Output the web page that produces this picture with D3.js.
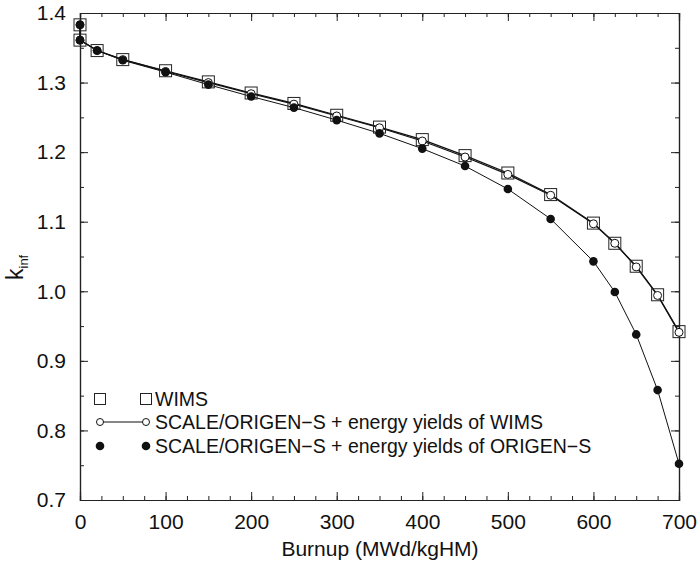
<!DOCTYPE html>
<html><head><meta charset="utf-8">
<script src="https://cdn.jsdelivr.net/npm/d3@7"></script>
<style>
body{margin:0;background:#fff;}
svg{display:block;}
text{font-family:"Liberation Sans Narrow","Arial Narrow","Liberation Sans",Arial,sans-serif;fill:#111;}
</style></head>
<body><svg id="c" width="700" height="561"></svg>
<script>
const burnup = [0, 0, 20, 50, 100, 150, 200, 250, 300, 350, 400, 450, 500, 550, 600, 625, 650, 675, 700];
const wims = [1.383, 1.361, 1.346, 1.333, 1.317, 1.301, 1.285, 1.270, 1.253, 1.236, 1.218, 1.195, 1.170, 1.139, 1.098, 1.069, 1.036, 0.995, 0.942];
const scaleWims = [1.383, 1.361, 1.346, 1.333, 1.316, 1.300, 1.284, 1.269, 1.252, 1.235, 1.216, 1.193, 1.168, 1.138, 1.097, 1.069, 1.035, 0.994, 0.941];
const scaleOrigen = [1.383, 1.361, 1.346, 1.332, 1.315, 1.297, 1.280, 1.264, 1.246, 1.227, 1.205, 1.180, 1.147, 1.104, 1.043, 0.999, 0.938, 0.858, 0.752];
const xTicks = [0, 100, 200, 300, 400, 500, 600, 700];
const yTicks = [0.7, 0.8, 0.9, 1.0, 1.1, 1.2, 1.3, 1.4];
const legendLabels = ["WIMS", "SCALE/ORIGEN\u2212S + energy yields of WIMS", "SCALE/ORIGEN\u2212S + energy yields of ORIGEN\u2212S"];
const xTitle = "Burnup (MWd/kgHM)";

const svg = d3.select("#c");
const L = 80, R = 679, T = 13, B = 500;
const x = d3.scaleLinear().domain([0, 700]).range([L, R]);
const y = d3.scaleLinear().domain([0.7, 1.4]).range([B, T]);

const xMinor = d3.range(0, 701, 25);
const yMinor = d3.range(0.7, 1.4001, 0.05).map(v => +v.toFixed(2));

function styleAxis(g) {
  g.selectAll("path").attr("stroke", "#222").attr("stroke-width", 1.2);
  g.selectAll("line").attr("stroke", "#222").attr("stroke-width", 1);
  g.selectAll("text").attr("font-size", 21).style("font-family", "'Liberation Sans Narrow','Arial Narrow','Liberation Sans',Arial,sans-serif").attr("fill", "#111");
}
// minor ticks
svg.append("g").attr("transform", `translate(0,${B})`).call(d3.axisBottom(x).tickValues(xMinor).tickSize(-4).tickFormat("")).call(styleAxis);
svg.append("g").attr("transform", `translate(0,${T})`).call(d3.axisTop(x).tickValues(xMinor).tickSize(-4).tickFormat("")).call(styleAxis);
svg.append("g").attr("transform", `translate(${L},0)`).call(d3.axisLeft(y).tickValues(yMinor).tickSize(-4).tickFormat("")).call(styleAxis);
svg.append("g").attr("transform", `translate(${R},0)`).call(d3.axisRight(y).tickValues(yMinor).tickSize(-4).tickFormat("")).call(styleAxis);
// major ticks
svg.append("g").attr("transform", `translate(0,${B})`).call(d3.axisBottom(x).tickValues(xTicks).tickSize(-8).tickPadding(14).tickFormat(d3.format("d"))).call(styleAxis);
svg.append("g").attr("transform", `translate(0,${T})`).call(d3.axisTop(x).tickValues(xTicks).tickSize(-8).tickFormat("")).call(styleAxis);
svg.append("g").attr("transform", `translate(${L},0)`).call(d3.axisLeft(y).tickValues(yTicks).tickSize(-8).tickPadding(14).tickFormat(d3.format(".1f"))).call(styleAxis);
svg.append("g").attr("transform", `translate(${R},0)`).call(d3.axisRight(y).tickValues(yTicks).tickSize(-8).tickFormat("")).call(styleAxis);

// axis titles
svg.append("text").attr("x", 380).attr("y", 556).attr("text-anchor", "middle").attr("font-size", 21).text(xTitle);
const yl = svg.append("text").attr("transform", "translate(23,280) rotate(-90)").attr("font-size", 23);
yl.append("tspan").text("k");
yl.append("tspan").attr("font-size", 13).attr("dy", 5).text("inf");

const line = d3.line().x(d => x(d[0])).y(d => y(d[1]));
const dW = burnup.map((b, i) => [b, wims[i]]);
const dSW = burnup.map((b, i) => [b, scaleWims[i]]);
const dSO = burnup.map((b, i) => [b, scaleOrigen[i]]);

svg.append("path").datum(dSO).attr("d", line).attr("fill", "none").attr("stroke", "#111").attr("stroke-width", 1);
svg.append("path").datum(dW).attr("d", line).attr("fill", "none").attr("stroke", "#111").attr("stroke-width", 1.2);
svg.append("path").datum(dSW).attr("d", line).attr("fill", "none").attr("stroke", "#111").attr("stroke-width", 1.2);

const S = 12;
svg.append("g").selectAll("rect").data(dW).join("rect")
  .attr("x", d => x(d[0]) - S / 2).attr("y", d => y(d[1]) - S / 2).attr("width", S).attr("height", S)
  .attr("fill", "none").attr("stroke", "#222").attr("stroke-width", 1);
svg.append("g").selectAll("circle").data(dSW).join("circle")
  .attr("cx", d => x(d[0])).attr("cy", d => y(d[1])).attr("r", 4)
  .attr("fill", "#fff").attr("stroke", "#111").attr("stroke-width", 1);
svg.append("g").selectAll("circle").data(dSO).join("circle")
  .attr("cx", d => x(d[0])).attr("cy", d => y(d[1])).attr("r", 4.3)
  .attr("fill", "#111");

// legend
const lg = svg.append("g");
const rows = [399, 422, 446];
const x1 = 100, x2 = 146, tx = 155;
[x1, x2].forEach(px => lg.append("rect").attr("x", px - 5.5).attr("y", rows[0] - 5.5).attr("width", 11).attr("height", 11)
  .attr("fill", "none").attr("stroke", "#222").attr("stroke-width", 1));
lg.append("line").attr("x1", x1).attr("x2", x2).attr("y1", rows[1]).attr("y2", rows[1]).attr("stroke", "#111").attr("stroke-width", 1.2);
[x1, x2].forEach(px => lg.append("circle").attr("cx", px).attr("cy", rows[1]).attr("r", 3.5).attr("fill", "#fff").attr("stroke", "#111"));
[x1, x2].forEach(px => lg.append("circle").attr("cx", px).attr("cy", rows[2]).attr("r", 4.3).attr("fill", "#111"));
legendLabels.forEach((t, i) => lg.append("text").attr("x", tx).attr("y", rows[i]).attr("dy", "0.35em").attr("font-size", 19.5).text(t));
</script></body></html>
